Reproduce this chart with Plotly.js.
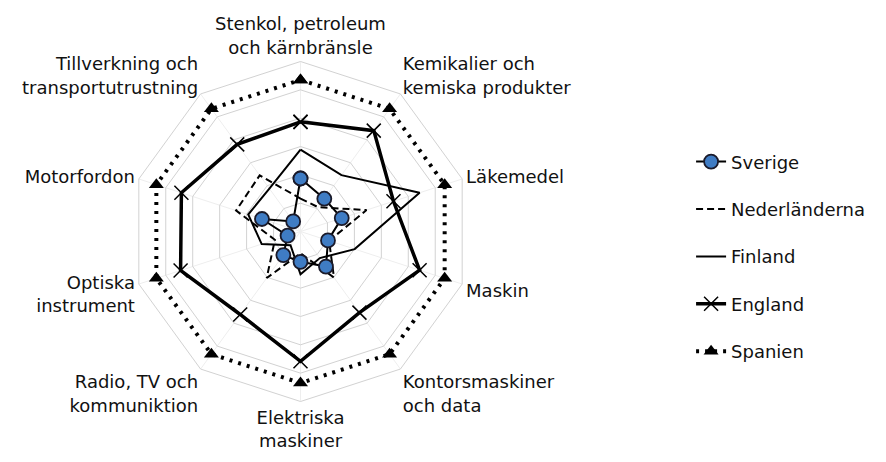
<!DOCTYPE html>
<html>
<head>
<meta charset="utf-8">
<script src="https://cdn.plot.ly/plotly-3.0.1.min.js"></script>
<style>html,body{margin:0;padding:0;background:#fff;}#chart{width:886px;height:462px;}</style>
</head>
<body>
<div id="chart"></div>
<script>
// Categories (clockwise from top)
const categories = [
  "Stenkol, petroleum<br>och kärnbränsle",
  "Kemikalier och<br>kemiska produkter",
  "Läkemedel",
  "Maskin",
  "Kontorsmaskiner<br>och data",
  "Elektriska<br>maskiner",
  "Radio, TV och<br>kommuniktion",
  "Optiska<br>instrument",
  "Motorfordon",
  "Tillverkning och<br>transportutrustning"
];
const seriesNames = ["Sverige", "Nederländerna", "Finland", "England", "Spanien"];

const sverige       = [1.87, 1.43, 1.53, 1.02, 1.53, 1.07, 1.03, 0.48, 1.43, 0.44];
const nederlanderna = [1.16, 1.06, 2.45, 1.06, 2.01, 0.77, 2.03, 0.95, 2.39, 2.45];
const finland       = [2.89, 2.46, 4.42, 2.01, 1.16, 1.51, 0.60, 1.44, 1.94, 1.87];
const england       = [3.87, 4.40, 3.45, 4.42, 3.54, 4.58, 3.62, 4.45, 4.42, 3.80];
const spanien       = [5.35, 5.35, 5.35, 5.35, 5.35, 5.35, 5.35, 5.35, 5.35, 5.35];

function closed(a){ return a.concat([a[0]]); }
const thetaClosed = closed(categories);

const traces = [
  {
    name: seriesNames[4], r: closed(spanien), theta: thetaClosed,
    type: "scatterpolar", mode: "lines+markers", legendrank: 5, legendgroup: "e",
    line: {color: "#000", width: 4, dash: "3px,6px"},
    marker: {symbol: "triangle-up", size: 13, color: "#000"}
  },
  {
    name: seriesNames[3], r: closed(england), theta: thetaClosed,
    type: "scatterpolar", mode: "lines+markers", legendrank: 4, legendgroup: "d",
    line: {color: "#000", width: 3.5},
    marker: {symbol: "x-thin-open", size: 14, color: "#000", line: {width: 1.5, color: "#000"}}
  },
  {
    name: seriesNames[2], r: closed(finland), theta: thetaClosed,
    type: "scatterpolar", mode: "lines", legendrank: 3, legendgroup: "c",
    line: {color: "#000", width: 2}
  },
  {
    name: seriesNames[1], r: closed(nederlanderna), theta: thetaClosed,
    type: "scatterpolar", mode: "lines", legendrank: 2, legendgroup: "b",
    line: {color: "#000", width: 2, dash: "7px,4px"}
  },
  {
    name: seriesNames[0], r: closed(sverige), theta: thetaClosed,
    type: "scatterpolar", mode: "lines+markers", legendrank: 1, legendgroup: "a",
    line: {color: "#000", width: 2},
    marker: {symbol: "circle", size: 14, color: "#3f7cc4", line: {width: 1.8, color: "#1a1a2a"}}
  }
];

const layout = {
  width: 886, height: 462,
  margin: {l: 0, r: 0, t: 0, b: 0},
  paper_bgcolor: "#ffffff",
  font: {family: "DejaVu Sans, Liberation Sans, sans-serif", size: 18, color: "#111111"},
  showlegend: true,
  legend: {
    x: 0.78, xanchor: "left", y: 0.445, yanchor: "middle",
    tracegroupgap: 21, bgcolor: "rgba(0,0,0,0)",
    font: {family: "DejaVu Sans, Liberation Sans, sans-serif", size: 18, color: "#111111"}
  },
  polar: {
    domain: {x: [0.14729, 0.53104], y: [0.13095, 0.86688]},
    bgcolor: "#ffffff",
    gridshape: "linear",
    radialaxis: {
      range: [0, 6], dtick: 1, showticklabels: false, ticks: "",
      showline: false, gridcolor: "#d2d2d2", gridwidth: 1
    },
    angularaxis: {
      direction: "clockwise", rotation: 90,
      showline: true, linecolor: "#d2d2d2", linewidth: 1,
      showgrid: true, gridcolor: "#eeeeee",
      ticks: "", tickfont: {size: 18, color: "#111111"}
    }
  }
};

Plotly.newPlot("chart", traces, layout, {displayModeBar: false, staticPlot: true});
</script>
</body>
</html>
